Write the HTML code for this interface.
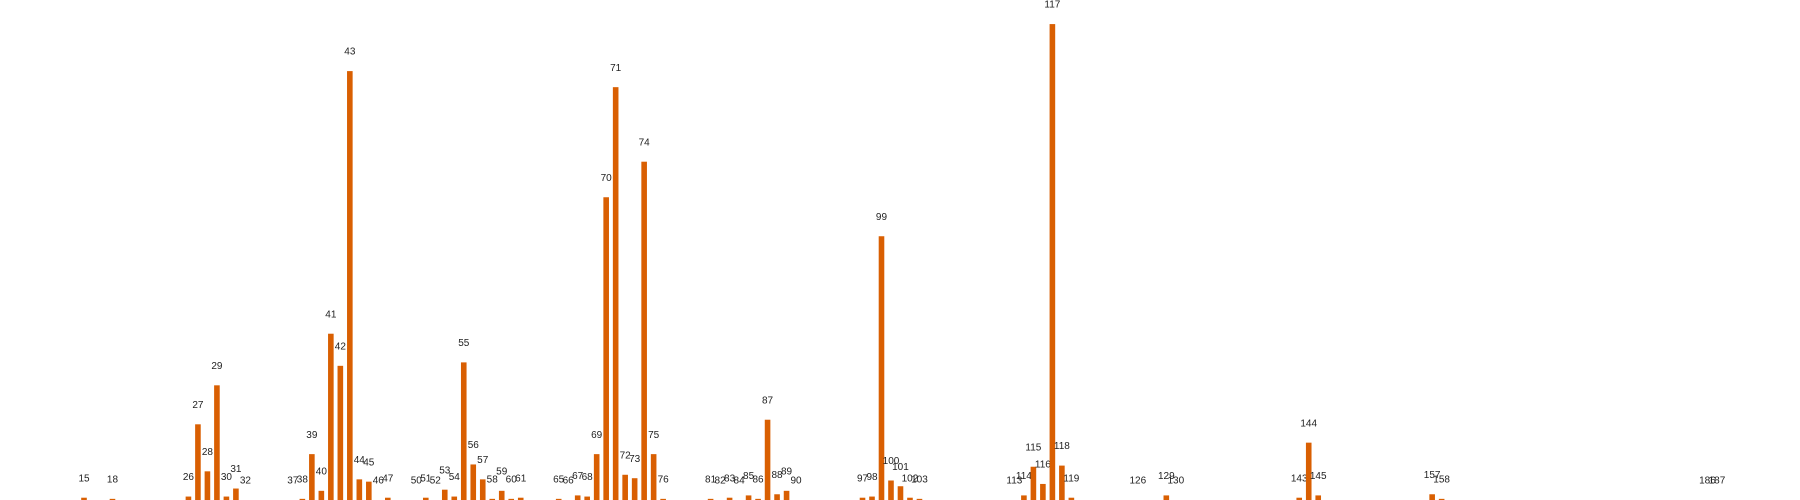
<!DOCTYPE html>
<html><head><meta charset="utf-8"><style>
html,body{margin:0;padding:0;background:#fff;width:1800px;height:500px;overflow:hidden}
svg{display:block}
text{font-family:"Liberation Sans",sans-serif;font-size:10px;fill:#222}
</style></head><body>
<svg id="chart" width="1800" height="500"></svg>
<script>
const categories=[15,18,26,27,28,29,30,31,32,37,38,39,40,41,42,43,44,45,46,47,50,51,52,53,54,55,56,57,58,59,60,61,65,66,67,68,69,70,71,72,73,74,75,76,81,82,83,84,85,86,87,88,89,90,97,98,99,100,101,102,103,113,114,115,116,117,118,119,126,129,130,143,144,145,157,158,186,187];
const values=[2,1,3,66,25,100,3,10,0,0,1,40,8,145,117,374,18,16,0,2,0,2,0,9,3,120,31,18,1,8,1,2,1,0,4,3,40,264,360,22,19,295,40,1,1,0,2,0,4,1,70,5,8,0,2,3,230,17,12,2,1,0,4,29,14,415,30,2,0,4,0,2,50,4,5,1,0,0];
const NS="http://www.w3.org/2000/svg";
const svg=document.getElementById('chart');
const xScale=c=>84+(c-15)*9.494;
const yScale=v=>500-v*(500/436);
const bw=5.6;
categories.forEach((c,i)=>{
  const x=xScale(c),y=yScale(values[i]);
  const r=document.createElementNS(NS,'rect');
  r.setAttribute('x',x-bw/2);r.setAttribute('y',y);
  r.setAttribute('width',bw);r.setAttribute('height',500-y);
  r.setAttribute('fill','#d95f02');
  
  
  svg.appendChild(r);
  const t=document.createElementNS(NS,'text');
  t.setAttribute('x',x);t.setAttribute('y',y-19);
  t.setAttribute('text-anchor','middle');t.setAttribute('dominant-baseline','middle');
  t.textContent=c;
  
  
  svg.appendChild(t);
});
</script>
</body></html>
